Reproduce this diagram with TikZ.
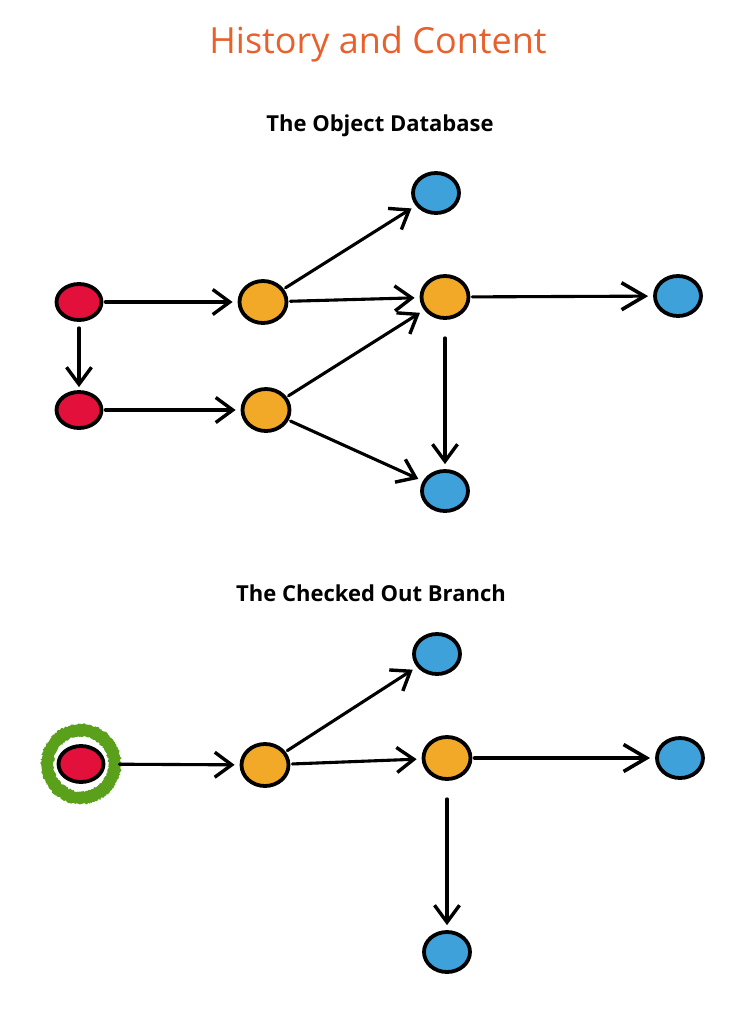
\documentclass[tikz,border=0pt]{standalone}
\usepackage{fontspec}
\setmainfont{Open Sans}
\usetikzlibrary{arrows.meta,shapes.geometric,decorations.pathmorphing}
\definecolor{ttl}{HTML}{E8602C}
\definecolor{cred}{HTML}{E2103A}
\definecolor{corg}{HTML}{F2A928}
\definecolor{cblu}{HTML}{3FA1DA}
\definecolor{cgrn}{HTML}{5AA01A}
\tikzset{
  dot/.style={ellipse, draw=black, line width=3.8pt, inner sep=0pt},
  rdot/.style={dot, fill=cred, minimum width=45pt, minimum height=36pt},
  odot/.style={dot, fill=corg, minimum width=47pt, minimum height=42pt},
  bdot/.style={dot, fill=cblu, minimum width=46pt, minimum height=40pt},
  arr/.style={-{Straight Barb[length=17pt,width=25pt,line width=3.4pt]}, line width=3.1pt, line cap=round, shorten >=5pt, shorten <=2pt},
  bigarr/.style={-{Straight Barb[length=23pt,width=27pt,line width=3.6pt]}},
  ttlstyle/.style={text=ttl, font=\fontsize{36}{40}\selectfont},
  sub/.style={font=\bfseries\fontsize{22}{25}\selectfont},
}
\begin{document}
\begin{tikzpicture}[x=1pt,y=-1pt]
\useasboundingbox (0,0) rectangle (744,1010);
\node[ttlstyle] (title) at (378,44) {History and Content};
\node[sub] (s1) at (380,126) {The Object Database};
\node[sub] (s2) at (371,593) {The Checked Out Branch};
% top graph
\node[rdot] (r1) at (79,302) {};
\node[rdot] (r2) at (79,410) {};
\node[odot] (o1) at (263,302) {};
\node[odot] (o2) at (266,410) {};
\node[odot] (o3) at (445,297) {};
\node[bdot] (b1) at (436,193) {};
\node[bdot] (b2) at (678,296) {};
\node[bdot] (b3) at (445,491) {};
\draw[arr] (r1) -- (o1);
\draw[arr, shorten <=6pt, shorten >=3pt] (r1) -- (r2);
\draw[arr] (r2) -- (o2);
\draw[arr] (o1) -- (b1);
\draw[arr] (o1) -- (o3);
\draw[arr] (o2) -- (o3);
\draw[arr] (o2) -- (b3);
\draw[arr, bigarr] (o3) -- (b2);
\draw[arr, shorten <=18pt] (o3) -- (b3);
% bottom graph
\node[rdot] (r3) at (81,764) {};
\fill[cgrn, even odd rule, decorate, decoration={random steps, segment length=1.2pt, amplitude=0.9pt}] (r3.center) circle[radius=40] (r3.center) circle[radius=27.5];
\node[odot] (o4) at (265,765) {};
\node[odot] (o5) at (447,758) {};
\node[bdot] (b4) at (437,654) {};
\node[bdot] (b5) at (680,758) {};
\node[bdot] (b6) at (447,952) {};
\draw[arr, shorten <=14pt] (r3) -- (o4);
\draw[arr] (o4) -- (b4);
\draw[arr] (o4) -- (o5);
\draw[arr, bigarr] (o5) -- (b5);
\draw[arr, shorten <=18pt] (o5) -- (b6);
\end{tikzpicture}
\end{document}
